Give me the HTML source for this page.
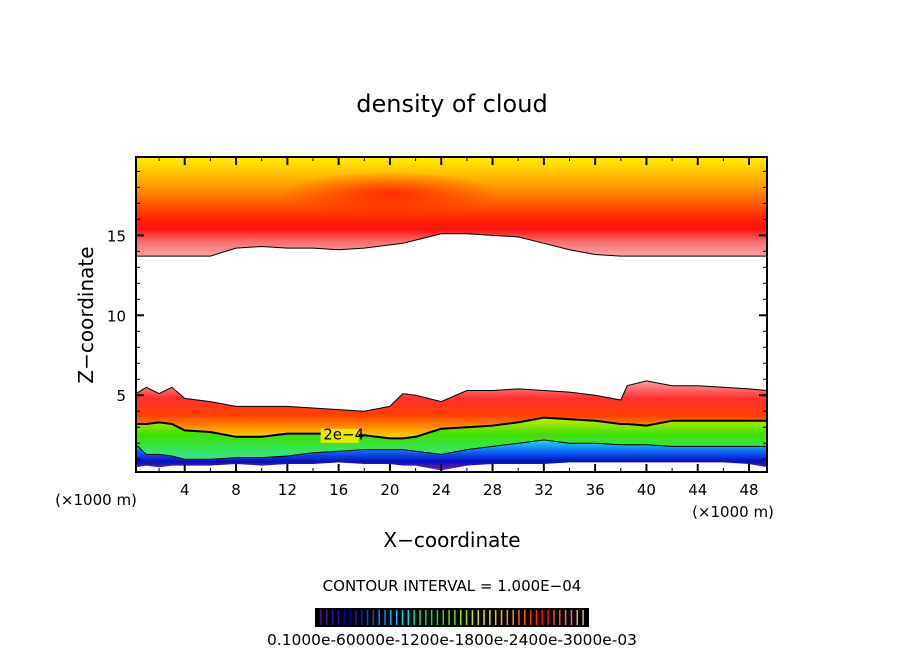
<!DOCTYPE html>
<html><head><meta charset="utf-8"><style>
html,body{margin:0;padding:0;background:#fff;}
svg text{font-family:"DejaVu Sans","Liberation Sans",sans-serif;fill:#000;}
</style></head><body>
<svg id="chart" width="904" height="654" viewBox="0 0 904 654">
<defs>
  <linearGradient id="gUp" gradientUnits="userSpaceOnUse" x1="0" y1="257" x2="0" y2="157">
    <stop offset="0" stop-color="#f9a8a8"/>
    <stop offset="0.15" stop-color="#f87070"/>
    <stop offset="0.28" stop-color="#ff1010"/>
    <stop offset="0.42" stop-color="#ff3000"/>
    <stop offset="0.7" stop-color="#ff9a00"/>
    <stop offset="1" stop-color="#fff000"/>
  </linearGradient>
  <radialGradient id="gPeak" cx="0.5" cy="0.5" r="0.5">
    <stop offset="0" stop-color="#ff1000" stop-opacity="0.75"/>
    <stop offset="1" stop-color="#ff1000" stop-opacity="0"/>
  </radialGradient>
  <linearGradient id="gTop" gradientUnits="objectBoundingBox" x1="0" y1="0" x2="0" y2="1">
    <stop offset="0" stop-color="#f8a0a0"/>
    <stop offset="0.3" stop-color="#ff3030"/>
    <stop offset="0.6" stop-color="#ff4000"/>
    <stop offset="0.85" stop-color="#ffa000"/>
    <stop offset="1" stop-color="#ffe000"/>
  </linearGradient>
  <linearGradient id="gMid" gradientUnits="objectBoundingBox" x1="0" y1="0" x2="0" y2="1">
    <stop offset="0" stop-color="#c8f000"/>
    <stop offset="0.4" stop-color="#40e000"/>
    <stop offset="1" stop-color="#30e890"/>
  </linearGradient>
  <linearGradient id="gLow" gradientUnits="objectBoundingBox" x1="0" y1="0" x2="0" y2="1">
    <stop offset="0" stop-color="#20e0f0"/>
    <stop offset="0.35" stop-color="#1070ff"/>
    <stop offset="0.7" stop-color="#0010c0"/>
    <stop offset="1" stop-color="#8020b0"/>
  </linearGradient>
</defs>
<g id="plot"></g>
<text x="452" y="112" font-size="24" text-anchor="middle">density of cloud</text>
<text x="93" y="315" font-size="20" text-anchor="middle" transform="rotate(-90 93 315)">Z−coordinate</text>
<text x="452" y="547" font-size="20" text-anchor="middle">X−coordinate</text>
<text x="96" y="505" font-size="15" text-anchor="middle">(×1000 m)</text>
<text x="733" y="517" font-size="15" text-anchor="middle">(×1000 m)</text>
<text x="452" y="591" font-size="15" text-anchor="middle">CONTOUR INTERVAL = 1.000E−04</text>
<g id="cbar"></g>
<text x="452" y="645" font-size="15" text-anchor="middle" textLength="370" lengthAdjust="spacingAndGlyphs">0.1000e-60000e-1200e-1800e-2400e-3000e-03</text>
</svg>
<script>
const xs      = [0.2, 1, 2, 3, 4, 6, 8, 10, 12, 14, 16, 18, 20, 21, 22, 24, 26, 28, 30, 32, 34, 36, 38, 38.5, 40, 42, 44, 46, 48, 49.4];
const upperBase = [13.7,13.7,13.7,13.7,13.7,13.7,14.2,14.3,14.2,14.2,14.1,14.2,14.4,14.5,14.7,15.1,15.1,15.0,14.9,14.5,14.1,13.8,13.7,13.7,13.7,13.7,13.7,13.7,13.7,13.7];
const lowerTop  = [5.1,5.5,5.1,5.5,4.8,4.6,4.3,4.3,4.3,4.2,4.1,4.0,4.3,5.1,5.0,4.6,5.3,5.3,5.4,5.3,5.2,5.0,4.7,5.6,5.9,5.6,5.6,5.5,5.4,5.3];
const contour2  = [3.2,3.2,3.3,3.2,2.8,2.7,2.4,2.4,2.6,2.6,2.6,2.5,2.3,2.3,2.4,2.9,3.0,3.1,3.3,3.6,3.5,3.4,3.2,3.2,3.1,3.4,3.4,3.4,3.4,3.4];
const contour1  = [1.9,1.3,1.3,1.2,1.0,1.0,1.1,1.1,1.2,1.4,1.5,1.6,1.6,1.6,1.5,1.3,1.6,1.8,2.0,2.2,2.0,2.0,1.9,1.9,1.9,1.8,1.8,1.8,1.8,1.8];
const bottomZ   = [0.5,0.6,0.5,0.6,0.6,0.6,0.7,0.6,0.7,0.7,0.8,0.7,0.7,0.6,0.6,0.3,0.6,0.7,0.7,0.7,0.8,0.8,0.8,0.8,0.8,0.8,0.8,0.8,0.7,0.5];
const xTicks = [4,8,12,16,20,24,28,32,36,40,44,48];
const yTicks = [5,10,15];
const barColors = ["#6010a0","#3010b0","#0000c0","#0020e0","#0050ff","#0090ff","#00c0ff","#00e0e0","#00e0a0","#00e060","#20e000","#60e000","#a0e000","#d0e000","#f0e000","#ffc000","#ff9000","#ff6000","#ff3000","#ff1010","#ff4040","#f87070","#f8a0a0"];

const NS="http://www.w3.org/2000/svg";
const L=136,R=767,T=157,B=472, X0=0.2,X1=49.4,Z0=0.2,Z1=19.9;
const sx=x=>L+(x-X0)/(X1-X0)*(R-L);
const sy=z=>B-(z-Z0)/(Z1-Z0)*(B-T);
const plot=document.getElementById('plot');
function mk(tag,attrs,parent){const e=document.createElementNS(NS,tag);for(const k in attrs)e.setAttribute(k,attrs[k]);(parent||plot).appendChild(e);return e;}
function line(arr){return xs.map((x,i)=>sx(x).toFixed(1)+','+sy(arr[i]).toFixed(1));}
function band(top,bot){return line(top).concat(line(bot).reverse()).join(' ');}
const topArr=xs.map(()=>Z1);

let e;
e=mk('polygon',{points:band(topArr,upperBase),fill:'url(#gUp)'});


e=mk('ellipse',{cx:sx(20),cy:sy(17.6),rx:110,ry:22,fill:'url(#gPeak)'});


e=mk('polygon',{points:band(lowerTop,contour2),fill:'url(#gTop)'});


e=mk('polygon',{points:band(contour2,contour1),fill:'url(#gMid)'});


e=mk('polygon',{points:band(contour1,bottomZ),fill:'url(#gLow)'});


[[upperBase,1],[lowerTop,1],[contour2,2],[contour1,1]].forEach(([a,w],i)=>{
  e=mk('polyline',{points:line(a).join(' '),fill:'none',stroke:'#000','stroke-width':w});
  
  
});
e=mk('rect',{x:sx(14.6),y:sy(2.9),width:38,height:14,fill:'#e8e800'});


e=mk('text',{x:sx(14.8),y:sy(2.6)+6,'font-size':15});e.textContent='2e−4';


e=mk('rect',{x:L,y:T,width:R-L,height:B-T,fill:'none',stroke:'#000','stroke-width':2});


for(let x=2;x<=X1;x+=2){const major=x%4===0,len=major?8:4;
  e=mk('line',{x1:sx(x),x2:sx(x),y1:B,y2:B-len,stroke:'#000','stroke-width':major?2:1});
  
  
  e=mk('line',{x1:sx(x),x2:sx(x),y1:T,y2:T+len,stroke:'#000','stroke-width':major?2:1});
  
  
}
for(let z=1;z<=19;z++){const major=z%5===0,len=major?8:4;
  e=mk('line',{x1:L,x2:L+len,y1:sy(z),y2:sy(z),stroke:'#000','stroke-width':major?2:1});
  
  
  e=mk('line',{x1:R,x2:R-len,y1:sy(z),y2:sy(z),stroke:'#000','stroke-width':major?2:1});
  
  
}
xTicks.forEach(t=>{e=mk('text',{x:sx(t),y:B+23,'font-size':15,'text-anchor':'middle'});e.textContent=t;
  
  });
yTicks.forEach(t=>{e=mk('text',{x:L-10,y:sy(t)+6,'font-size':15,'text-anchor':'end'});e.textContent=t;
  
  });
const cb=document.getElementById('cbar');
const cbL=315,cbR=589,cbT=608,cbB=627;
e=mk('rect',{x:cbL,y:cbT,width:cbR-cbL,height:cbB-cbT,fill:'#000'},cb);


const n=barColors.length*2;
for(let i=0;i<n;i++){const c=barColors[Math.floor(i/2)];const x=cbL+3+(i+0.5)*(cbR-cbL-6)/n;
  e=mk('line',{x1:x,x2:x,y1:cbT+2,y2:cbB-2,stroke:c,'stroke-width':1.5},cb);
  
  }
</script>
</body></html>
